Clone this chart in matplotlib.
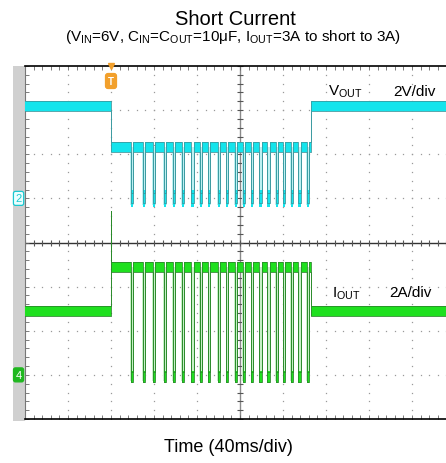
import matplotlib
matplotlib.use('Agg')
import matplotlib.pyplot as plt
import numpy as np
from matplotlib.patches import Rectangle

plt.rcParams['font.family'] = ['Liberation Sans', 'DejaVu Sans']
plt.rcParams['mathtext.fontset'] = 'custom'
plt.rcParams['mathtext.rm'] = 'Liberation Sans'
plt.rcParams['mathtext.it'] = 'Liberation Sans:italic'

# scope screen: 10 x 8 divisions, 40 ms/div, trigger on the 2nd division
t_start, t_end = -80.0, 320.0     # ms
ms_per_div = 40.0
v_per_div = 2.0
a_per_div = 2.0
vout_gnd = 1.0                    # div, channel 2 ground
iout_gnd = -3.0                   # div, channel 4 ground

# levels
vout_normal = 4.19                # V
vout_short = 2.33                 # V
vout_dip = 0.0                    # V
iout_load = 2.9                   # A
iout_short = 4.9                  # A
iout_peak = 7.2                   # A, spike when the short is applied
iout_dip = -0.1                   # A
short_on = 0.0                    # ms
short_off = 186.0                 # ms
hiccup_t = [18.5, 29.5, 39.0, 48.9, 57.4, 66.0, 74.8, 82.5, 90.5, 99.4, 107.2,
            115.2, 122.8, 130.5, 138.0, 145.5, 153.4, 160.3, 167.2, 174.4, 182.0]
dip_w = 2.0                       # ms

cyan = '#14e4ec'
cyan_edge = '#3a9aa0'
cyan_ghost = '#bdf0f2'
green = '#1fe01f'
green_edge = '#2a8a2a'
green_ghost = '#c6f0c6'
orange = '#f2a02c'


def build(normal, short, dip, peak=None):
    t = [t_start, short_on]
    y = [normal, normal]
    if peak is not None:
        t += [short_on]
        y += [peak]
    t += [short_on]
    y += [short]
    for h in hiccup_t:
        t += [h, h, h + dip_w, h + dip_w]
        y += [short, dip, dip, short]
    t += [short_off, short_off, t_end]
    y += [short, normal, normal]
    return np.array(t), np.array(y)


fig = plt.figure(figsize=(4.46, 4.64), dpi=100)
ax = fig.add_axes([25 / 446, 44 / 464, 430 / 446, 353 / 464])
ax.set_xlim(t_start, t_end)
ax.set_ylim(-4, 4)

# gray strip left of the graticule
fig.patches.append(Rectangle((13 / 446, 42 / 464), 12 / 446, 355 / 464,
                             transform=fig.transFigure, fc='#d0d0d0', ec='none', zorder=-1))

# graticule
xdiv = t_start + np.arange(0, 10.01, 0.2) * ms_per_div
ydiv = np.arange(-4, 4.01, 0.2)
for gx in [1, 2, 3, 4, 6, 7, 8, 9]:
    ax.plot(np.full(ydiv.size, t_start + gx * ms_per_div), ydiv, ls='none', marker='s',
            ms=0.9, mew=0, color='#9a9a9a', zorder=1)
for gy in [-3, -2, -1, 1, 2, 3]:
    ax.plot(xdiv, np.full(xdiv.size, gy), ls='none', marker='s',
            ms=0.9, mew=0, color='#9a9a9a', zorder=1)
ax.axvline(t_start + 5 * ms_per_div, color='#8a8a8a', lw=1.0, zorder=1)
ax.axhline(0, color='#333333', lw=1.0, zorder=1)
ax.plot(xdiv, np.zeros(xdiv.size), ls='none', marker='|', ms=5, mew=0.8, color='#555555', zorder=1)
ax.plot(np.full(ydiv.size, t_start + 5 * ms_per_div), ydiv, ls='none', marker='_', ms=5,
        mew=0.8, color='#555555', zorder=1)

ax.set_xticks(xdiv)
ax.set_yticks(ydiv)
ax.tick_params(axis='both', direction='in', length=3, width=0.6, colors='#666666',
               labelleft=False, labelbottom=False, top=True)
for side in ['top', 'bottom']:
    ax.spines[side].set_color('black')
    ax.spines[side].set_linewidth(1.2)
ax.spines['left'].set_color('#777777')
ax.spines['right'].set_visible(False)

# channel 2: VOUT
hw = 0.115  # half width of the trace band, div
t2, v2 = build(vout_normal, vout_short, vout_dip)
d2 = v2 / v_per_div + vout_gnd
for h in hiccup_t:
    ax.fill_between([h - 0.6, h + dip_w + 0.8], vout_dip / v_per_div + vout_gnd - 0.15,
                    vout_short / v_per_div + vout_gnd, color=cyan_ghost, lw=0, zorder=2)
    ax.fill_between([h, h + dip_w], vout_dip / v_per_div + vout_gnd - 0.2,
                    vout_dip / v_per_div + vout_gnd + 0.18, color=cyan, lw=0, zorder=3)
ax.fill_between(t2, d2 - hw, d2 + hw, color=cyan, lw=0, zorder=3)
ax.plot(t2, d2 + hw, color=cyan_edge, lw=0.6, zorder=4)
ax.plot(t2, d2 - hw, color=cyan_edge, lw=0.6, zorder=4)

# channel 4: IOUT
t4, i4 = build(iout_load, iout_short, iout_dip, peak=iout_peak)
d4 = i4 / a_per_div + iout_gnd
for h in hiccup_t:
    ax.fill_between([h - 0.6, h + dip_w + 0.8], iout_dip / a_per_div + iout_gnd - 0.1,
                    iout_short / a_per_div + iout_gnd, color=green_ghost, lw=0, zorder=2)
    ax.fill_between([h, h + dip_w], iout_dip / a_per_div + iout_gnd - 0.13,
                    iout_dip / a_per_div + iout_gnd + 0.13, color=green, lw=0, zorder=3)
ax.fill_between(t4, d4 - hw, d4 + hw, color=green, lw=0, zorder=3)
ax.plot(t4, d4 + hw, color=green_edge, lw=0.6, zorder=4)
ax.plot(t4, d4 - hw, color=green_edge, lw=0.6, zorder=4)

# trigger marker
ax.plot(short_on, 4, marker='v', ms=5, color=orange, clip_on=False, zorder=6)
ax.text(short_on, 3.66, 'T', color='white', fontsize=7, fontweight='bold', ha='center',
        va='center', zorder=6,
        bbox=dict(boxstyle='round,pad=0.25', fc=orange, ec=orange))

# channel ground markers
ax.text(-0.015, vout_gnd, '2', transform=ax.get_yaxis_transform(), fontsize=8, color='#19c8d0',
        ha='center', va='center', clip_on=False, zorder=6,
        bbox=dict(boxstyle='round,pad=0.18', fc='#eaffff', ec='#19c8d0', lw=0.9))
ax.text(-0.015, iout_gnd, '4', transform=ax.get_yaxis_transform(), fontsize=8, color='white',
        ha='center', va='center', clip_on=False, zorder=6,
        bbox=dict(boxstyle='round,pad=0.18', fc='#1fb81f', ec='#1fb81f', lw=0.9))

# channel labels
ax.text(0.705, 0.918, r'V$_{\mathrm{OUT}}$', transform=ax.transAxes, fontsize=11, va='baseline')
ax.text(0.856, 0.918, '2V/div', transform=ax.transAxes, fontsize=11, va='baseline')
ax.text(0.713, 0.348, r'I$_{\mathrm{OUT}}$', transform=ax.transAxes, fontsize=11, va='baseline')
ax.text(0.8465, 0.348, '2A/div', transform=ax.transAxes, fontsize=11, va='baseline')

fig.text(0.527, 0.9575, 'Short Current', fontsize=14.5, ha='center', va='center')
fig.text(0.522, 0.920, r'(V$_{\mathrm{IN}}$=6V, C$_{\mathrm{IN}}$=C$_{\mathrm{OUT}}$=10μF, '
         r'I$_{\mathrm{OUT}}$=3A to short to 3A)', fontsize=11, ha='center', va='center')
fig.text(0.513, 0.036, 'Time (40ms/div)', fontsize=13, ha='center', va='center')

fig.savefig('out.png', dpi=100)
